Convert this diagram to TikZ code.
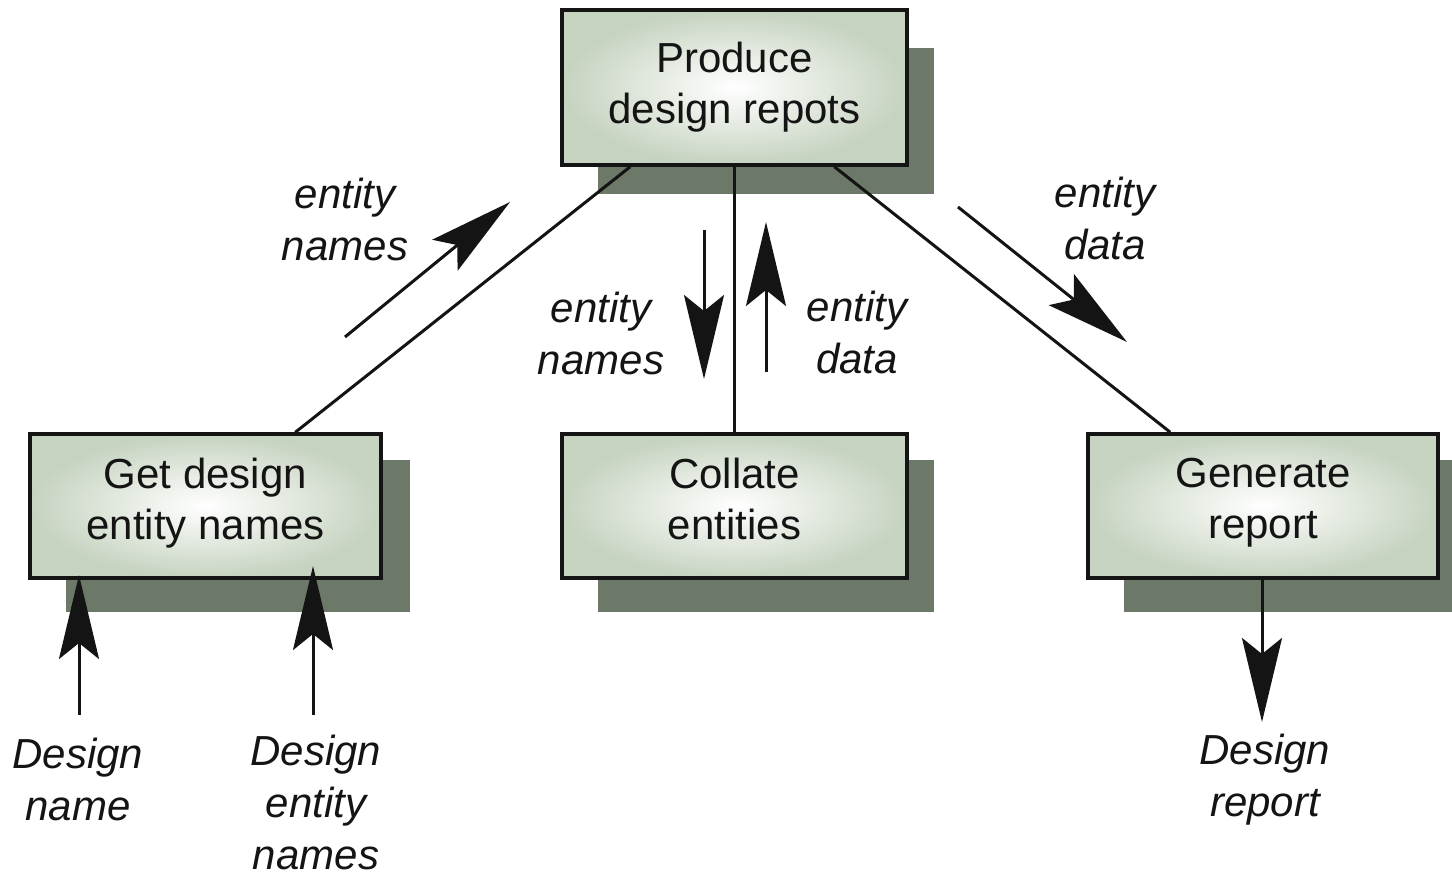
\documentclass[tikz,border=0pt]{standalone}
\usepackage{fontspec}
\setmainfont{Liberation Sans}
\usetikzlibrary{arrows.meta,calc,backgrounds}
\definecolor{shadowc}{RGB}{108,120,104}
\definecolor{boxouter}{RGB}{198,211,192}
\definecolor{ink}{RGB}{20,20,20}
\tikzset{
  procbox/.style={draw=ink, line width=1.7pt, inner color=white, outer color=boxouter,
    align=center, text=ink, font=\fontsize{21pt}{25.5pt}\selectfont, inner sep=0pt},
  lbl/.style={align=center, text=ink, font=\fontsize{21pt}{26pt}\selectfont\itshape, inner sep=0pt},
  link/.style={draw=ink, line width=1.5pt},
  flow/.style={draw=ink, line width=1.5pt, -{Stealth[length=42pt,width=20pt,inset=8pt]}},
  shade/.style={fill=shadowc}
}
\begin{document}
\begin{tikzpicture}[x=0.5pt,y=-0.5pt]
\useasboundingbox (0,0) rectangle (1452,876);
% boxes
\node[procbox, minimum width=172.5pt, minimum height=77.5pt] (top) at (734.5,87.5) {Produce\\design repots};
\node[procbox, minimum width=175.5pt, minimum height=72pt] (get) at (205.5,506) {Get design\\entity names\strut};
\node[procbox, minimum width=172.5pt, minimum height=72pt] (col) at (734.5,506) {Collate\\entities\strut};
\node[procbox, minimum width=175pt, minimum height=72pt] (gen) at (1263,506) {Generate\\report\strut};
% shadows
\begin{pgfonlayer}{background}
\fill[shade] ($(top.south west)+(38,27)$) rectangle ($(top.north east)+(25,40)$);
\fill[shade] ($(get.south west)+(38,32)$) rectangle ($(get.north east)+(27,28)$);
\fill[shade] ($(col.south west)+(38,32)$) rectangle ($(col.north east)+(25,28)$);
\fill[shade] ($(gen.south west)+(38,32)$) rectangle ($(gen.north east)+(27,28)$);
\end{pgfonlayer}
% connectors between processes
\coordinate (tl) at ($(top.south west)+(70,0)$);
\coordinate (gl) at ($(get.north west)+(267,0)$);
\coordinate (tr) at ($(top.south west)+(274,0)$);
\coordinate (gr) at ($(gen.north west)+(84,0)$);
\draw[link] (tl) -- (gl);
\draw[link] (top.south) -- (col.north);
\draw[link] (tr) -- (gr);
% flow arrows
\coordinate (a1s) at (345,337); \coordinate (a1e) at (510,202);
\coordinate (a2s) at (704,230); \coordinate (a2e) at (704,379);
\coordinate (a3s) at (766,372); \coordinate (a3e) at (766,222);
\coordinate (a4s) at (958,207); \coordinate (a4e) at (1127,342);
\coordinate (b1s) at (79,715); \coordinate (b1e) at (79,575);
\coordinate (b2s) at (313,715); \coordinate (b2e) at (313,566);
\coordinate (b3e) at (1262,722);
\draw[flow] (a1s) -- (a1e);
\draw[flow] (a2s) -- (a2e);
\draw[flow] (a3s) -- (a3e);
\draw[flow] (a4s) -- (a4e);
\draw[flow] (b1s) -- (b1e);
\draw[flow] (b2s) -- (b2e);
\draw[flow] (gen.south -| b3e) -- (b3e);
% labels
\node[lbl] (l1) at (345,219) {entity\\names};
\node[lbl] (l2) at (601,333) {entity\\names};
\node[lbl] (l3) at (857,333) {entity\\data};
\node[lbl] (l4) at (1105,219) {entity\\data};
\node[lbl] (l5) at (78,779) {Design\\name};
\node[lbl] (l6) at (316,802) {Design\\entity\\names};
\node[lbl] (l7) at (1265,780) {Design\\report};
\end{tikzpicture}
\end{document}
